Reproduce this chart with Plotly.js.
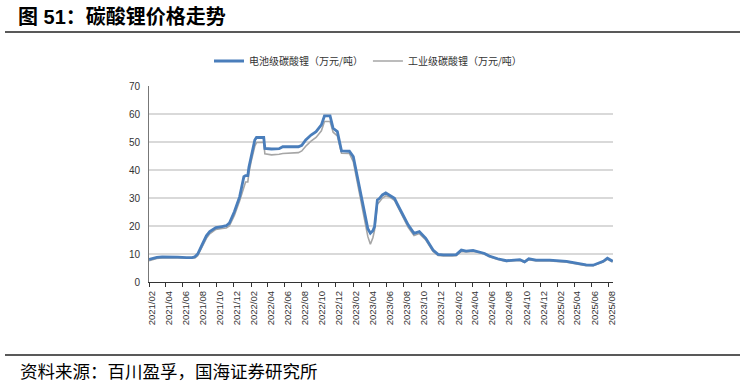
<!DOCTYPE html>
<html>
<head>
<meta charset="utf-8">
<script src="https://cdn.plot.ly/plotly-3.0.1.min.js"></script>
<style>html,body{margin:0;padding:0;background:#fff;}#chart{width:744px;height:386px;}</style>
</head>
<body>
<div id="chart"></div>
<script>
const dates = ["2021-02-01","2021-02-15","2021-03-01","2021-03-20","2021-04-15","2021-05-15","2021-06-15","2021-07-05","2021-07-15","2021-07-25",
"2021-08-12","2021-08-25","2021-09-06","2021-09-28","2021-10-20","2021-11-04","2021-11-15","2021-12-03","2021-12-22","2022-01-06",
"2022-01-12","2022-01-20","2022-01-24","2022-02-02","2022-02-14","2022-02-20","2022-03-18","2022-03-22","2022-04-15","2022-05-12",
"2022-05-25","2022-07-20","2022-08-01","2022-08-15","2022-09-03","2022-09-21","2022-10-10","2022-10-21","2022-11-10","2022-11-21",
"2022-12-06","2022-12-21","2023-01-18","2023-02-01","2023-02-18","2023-03-06","2023-03-25","2023-04-03","2023-04-12","2023-04-18",
"2023-04-28","2023-05-05","2023-05-16","2023-05-28","2023-06-10","2023-06-28","2023-07-10","2023-07-28","2023-08-16","2023-09-06",
"2023-09-25","2023-10-18","2023-11-13","2023-12-01","2023-12-20","2024-01-20","2024-02-04","2024-02-22","2024-03-10","2024-04-04",
"2024-04-28","2024-05-15","2024-06-01","2024-07-01","2024-08-01","2024-08-20","2024-09-18","2024-10-05","2024-10-20","2024-11-15",
"2025-01-03","2025-03-04","2025-04-07","2025-05-13","2025-06-07","2025-07-01","2025-07-13","2025-07-28","2025-08-16"];

const batteryGrade = [8.1,8.5,8.8,9.0,9.0,8.9,8.7,8.7,9.0,10.0,
13.8,16.5,18.0,19.4,19.8,20.1,21.0,25.1,30.5,37.6,
38.0,38.0,41.0,45.4,50.7,51.6,51.6,47.7,47.5,47.6,
48.3,48.3,48.8,50.7,52.5,53.7,56.1,59.3,59.3,54.9,
53.7,46.8,46.7,44.8,36.4,28.1,19.0,17.4,18.3,19.8,
29.3,29.8,31.1,31.8,31.1,29.9,27.5,23.9,20.4,17.4,
18.0,15.6,11.4,9.9,9.7,9.7,9.8,11.4,11.0,11.3,
10.8,10.2,9.3,8.3,7.6,7.8,8.0,7.2,8.3,7.8,
7.8,7.4,6.7,6.1,6.0,6.9,7.4,8.5,7.4];

const industrialGrade = [7.6,8.0,8.4,8.6,8.6,8.5,8.4,8.4,8.6,9.4,
12.8,15.6,17.2,18.8,19.1,19.3,20.0,23.8,29.0,34.5,
35.7,35.7,39.0,43.5,48.5,49.8,49.9,45.8,45.4,45.6,
45.9,46.2,46.8,48.5,50.3,51.6,54.0,57.3,57.3,53.5,
52.2,46.0,45.9,43.0,34.5,26.0,16.2,13.5,15.8,18.5,
27.8,28.6,30.0,30.8,30.4,29.2,26.8,23.0,19.5,16.6,
17.3,15.0,10.9,9.5,9.3,9.3,9.4,10.9,10.7,10.9,
10.5,9.9,9.0,8.0,7.3,7.5,7.7,7.0,8.0,7.5,
7.5,7.1,6.4,5.8,5.8,6.6,7.1,8.1,7.1];

const tickLabels = ["2021/02","2021/04","2021/06","2021/08","2021/10","2021/12","2022/02","2022/04","2022/06","2022/08",
"2022/10","2022/12","2023/02","2023/04","2023/06","2023/08","2023/10","2023/12","2024/02","2024/04",
"2024/06","2024/08","2024/10","2024/12","2025/02","2025/04","2025/06","2025/08"];

const seriesNames = ["电池级碳酸锂（万元/吨）","工业级碳酸锂（万元/吨）"];
const titleText = "图 51：碳酸锂价格走势";
const sourceText = "资料来源：百川盈孚，国海证券研究所";

const tickVals = tickLabels.map(s => s.replace("/", "-") + "-01");

// plot area in pixels: x 149..613, y 86..282
const L = 149, R = 613, T = 86, B = 282;
const px = x => (x - L) / (R - L);
const py = y => (B - y) / (B - T);

const cjk = '"Noto Sans CJK SC", "Liberation Sans", sans-serif';
const latin = '"Liberation Sans", Arial, sans-serif';

const traces = [
  {x: dates, y: industrialGrade, name: seriesNames[1], type: 'scatter', mode: 'lines',
   line: {color: '#a6a6a6', width: 1.6}},
  {x: dates, y: batteryGrade, name: seriesNames[0], type: 'scatter', mode: 'lines',
   line: {color: '#4a7ebb', width: 2.8}}
];

const layout = {
  width: 744, height: 386,
  margin: {l: L, r: 744 - R, t: T, b: 386 - B, pad: 0},
  paper_bgcolor: '#fff', plot_bgcolor: '#fff',
  title: {text: '<b>' + titleText + '</b>', x: 18/744, xanchor: 'left', xref: 'container',
          y: 1 - 17/386, yanchor: 'middle', yref: 'container',
          font: {family: '"Liberation Sans", "Noto Sans CJK SC", sans-serif', size: 20, color: '#000'}},
  showlegend: true,
  legend: {orientation: 'h', x: px(368), xanchor: 'center', y: py(61), yanchor: 'middle',
           traceorder: 'reversed', font: {family: cjk, size: 10, color: '#333'},
           bgcolor: 'rgba(0,0,0,0)', itemwidth: 30},
  xaxis: {type: 'date', range: ['2021-02-01', '2025-08-17'],
          tickmode: 'array', tickvals: tickVals, ticktext: tickLabels,
          tickangle: -90, ticks: 'outside', ticklen: 4, tickwidth: 1, tickcolor: '#333',
          ticklabelshift: 3,
          tickfont: {family: latin, size: 9.5, color: '#333'},
          showgrid: false, zeroline: false, showline: true, linecolor: '#333', linewidth: 1.2,
          fixedrange: true},
  yaxis: {range: [0, 70], dtick: 10, tick0: 0, ticks: '', showgrid: true,
          gridcolor: '#d9d9d9', gridwidth: 1.2, zeroline: false,
          showline: true, linecolor: '#777', linewidth: 1,
          ticklabelstandoff: 6,
          tickfont: {family: latin, size: 10, color: '#333'}, fixedrange: true},
  shapes: [
    {type: 'line', xref: 'paper', yref: 'paper', x0: px(5), x1: px(740), y0: py(32), y1: py(32),
     line: {color: '#222', width: 1.5}},
    {type: 'line', xref: 'paper', yref: 'paper', x0: px(5), x1: px(740), y0: py(355), y1: py(355),
     line: {color: '#222', width: 1.5}}
  ],
  annotations: [
    {text: sourceText, xref: 'paper', yref: 'paper', x: px(18), xanchor: 'left',
     y: py(370), yanchor: 'middle', showarrow: false,
     font: {family: cjk, size: 17.5, color: '#000'}}
  ]
};

Plotly.newPlot('chart', traces, layout, {staticPlot: true, displayModeBar: false});
</script>
</body>
</html>
